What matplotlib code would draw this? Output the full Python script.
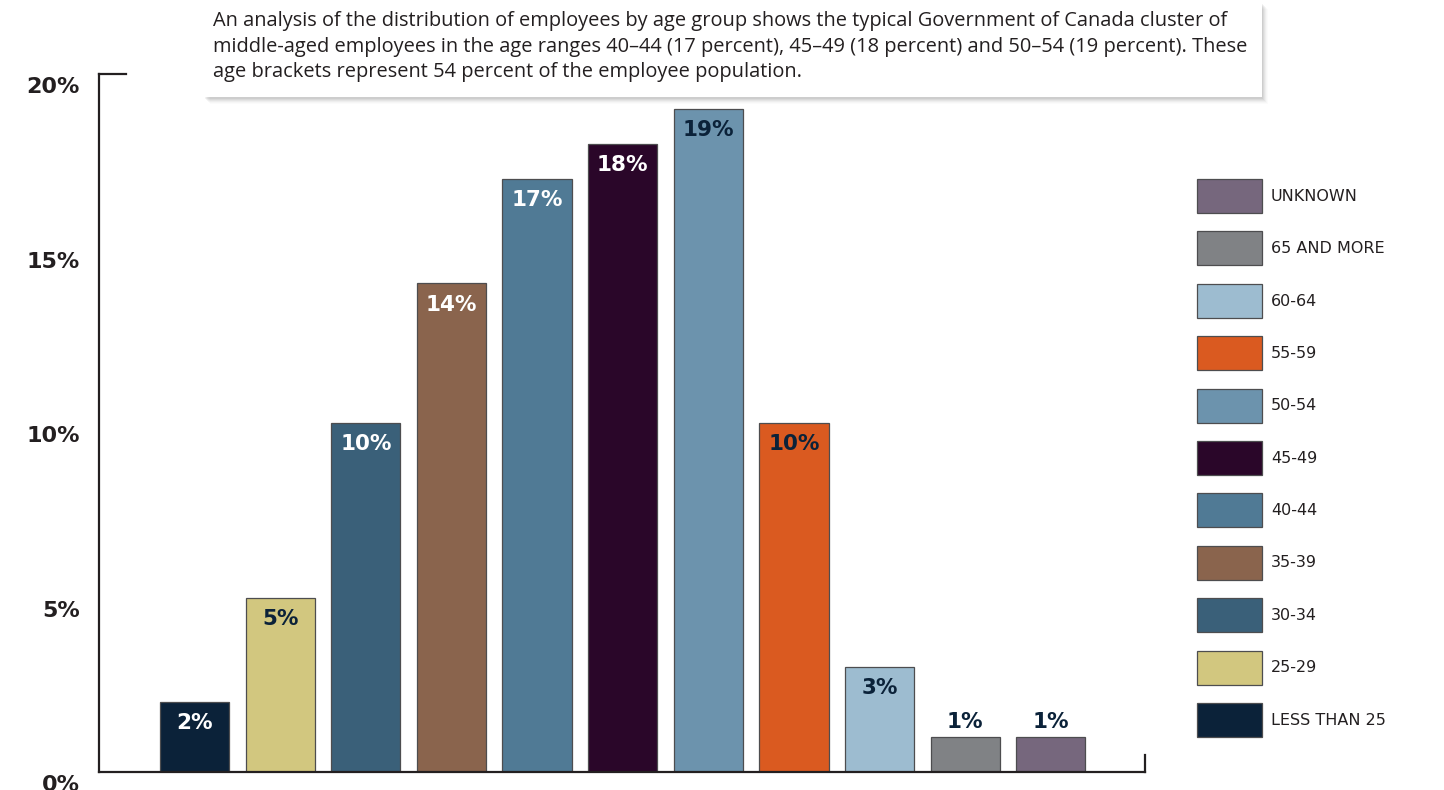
import matplotlib
matplotlib.use("Agg")
import matplotlib.pyplot as plt
from matplotlib.patches import Patch, FancyBboxPatch
from matplotlib.transforms import ScaledTranslation

# ── data ─────────────────────────────────────────────────────────────
age_groups = ["LESS THAN 25", "25-29", "30-34", "35-39", "40-44", "45-49",
              "50-54", "55-59", "60-64", "65 AND MORE", "UNKNOWN"]
share_pct = [2, 5, 10, 14, 17, 18, 19, 10, 3, 1, 1]
bar_colors = ["#0B2239", "#D2C77F", "#3A6079", "#8A644D", "#507A95", "#2A0629",
              "#6C93AD", "#DA5A20", "#9DBCD0", "#808285", "#76677D"]
# label inside the bar in white (dark bars) or navy (light bars)
label_white = [True, False, True, True, True, True, False, False, False, False, False]
y_ticks = [0, 5, 10, 15, 20]

note = ("An analysis of the distribution of employees by age group shows the typical Government of Canada cluster of\n"
        "middle-aged employees in the age ranges 40–44 (17 percent), 45–49 (18 percent) and 50–54 (19 percent). These\n"
        "age brackets represent 54 percent of the employee population.")

NAVY = "#0B2239"
INK = "#231F20"

fig = plt.figure(figsize=(14.44, 7.90), dpi=100, facecolor="white")
ax = fig.add_axes([99/1444, 18/790, (1145-99)/1444, (772-74)/790])

x = list(range(len(share_pct)))
ax.bar(x, share_pct, width=0.81, color=bar_colors, edgecolor="#4D4D4F", linewidth=0.9, zorder=2)

for xi, v, white in zip(x, share_pct, label_white):
    if v >= 2:
        ax.annotate(f"{v}%", (xi, v), xytext=(0, -8), textcoords="offset points",
                    ha="center", va="top", fontsize=15.5, fontweight="bold",
                    color="white" if white else NAVY)
    else:
        ax.annotate(f"{v}%", (xi, v), xytext=(0, 4), textcoords="offset points",
                    ha="center", va="bottom", fontsize=15.5, fontweight="bold",
                    color=NAVY)

ax.set_xlim(-1.116, 11.10)
ax.set_ylim(0, 20)
ax.set_xticks([])
ax.set_yticks(y_ticks)
ax.set_yticklabels([f"{t}%" for t in y_ticks], fontsize=16, fontweight="bold", color=INK)
ax.tick_params(axis="y", length=0, pad=14)
for lab in ax.get_yticklabels():
    lab.set_transform(lab.get_transform() + ScaledTranslation(0, -8/72, fig.dpi_scale_trans))

for side in ["left", "bottom", "top", "right"]:
    ax.spines[side].set_color(INK)
    ax.spines[side].set_linewidth(1.6)
ax.spines["top"].set_bounds(-1.116, -0.8)
ax.spines["right"].set_bounds(0, 0.5)

# legend, top entry = last category
handles = [Patch(facecolor=c, edgecolor="#4D4D4F", linewidth=0.9) for c in bar_colors]
fig.legend(handles[::-1], age_groups[::-1], loc="upper left",
           bbox_to_anchor=(1197/1444, 1 - 179/790), frameon=False,
           fontsize=11.5, handlelength=4.07, handleheight=2.90,
           handletextpad=0.56, labelspacing=1.15, borderpad=0, borderaxespad=0,
           labelcolor=INK)

# note box with soft shadow
for k, a in enumerate([0.05, 0.045, 0.04, 0.03, 0.02, 0.015]):
    fig.patches.append(FancyBboxPatch((204/1444 + (k+1)*1/1444, 1 - (97 + k + 2)/790),
                                      (1262-204)/1444, (97-2)/790,
                                      boxstyle="square,pad=0", transform=fig.transFigure,
                                      facecolor="black", alpha=a, edgecolor="none"))
fig.patches.append(FancyBboxPatch((204/1444, 1 - 97/790), (1262-204)/1444, (97-2)/790,
                                  boxstyle="square,pad=0", transform=fig.transFigure,
                                  facecolor="white", edgecolor="none"))
fig.text(213/1444, 1 - 11/790, note, ha="left", va="top", fontsize=14.4,
         family="Open Sans", color=INK, linespacing=1.37)

fig.savefig("out.png", dpi=100, facecolor="white")
